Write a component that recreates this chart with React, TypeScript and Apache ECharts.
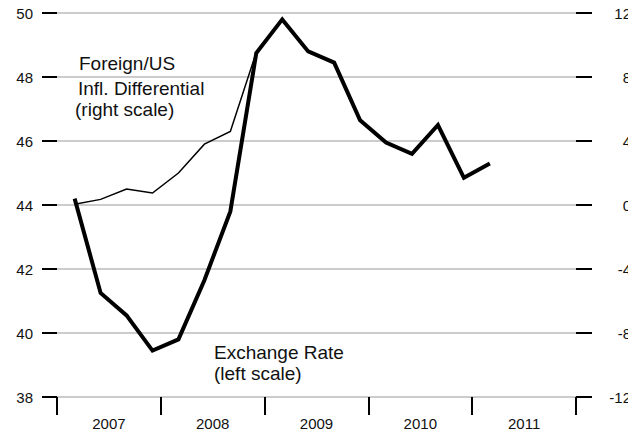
import React, { useEffect, useRef } from "react";
import * as echarts from "echarts";

const years = ["2007", "2008", "2009", "2010", "2011"];
const quarterDates = [
  2007.17, 2007.42, 2007.67, 2007.92, 2008.17, 2008.42, 2008.67, 2008.92,
  2009.17, 2009.42, 2009.67, 2009.92, 2010.17, 2010.42, 2010.67, 2010.92, 2011.17,
];
const exchangeRate = [
  44.2, 41.25, 40.55, 39.45, 39.8, 41.65, 43.8, 48.75, 49.8, 48.8, 48.45, 46.65,
  45.95, 45.6, 46.5, 44.85, 45.3,
];
const inflDiff = [0.05, 0.35, 1.0, 0.75, 2.0, 3.8, 4.6, 9.55];

const FONT = "'Liberation Sans', Arial, Helvetica, sans-serif";

export default function App() {
  const ref = useRef<HTMLDivElement>(null);
  useEffect(() => {
    if (!ref.current) return;
    const chart = echarts.init(ref.current, undefined, { renderer: "svg", width: 628, height: 431 });
    const tickStyle = { color: "#000", width: 2 };
    chart.setOption({
      animation: false,
      backgroundColor: "#fff",
      grid: {
        left: 57,
        right: 52,
        top: 13,
        bottom: 34,
        containLabel: false,
        outerBoundsMode: "none",
      },
      xAxis: [
        {
          type: "value",
          min: 2007,
          max: 2012,
          interval: 1,
          position: "bottom",
          axisLine: { show: false, onZero: false },
          axisTick: { show: true, length: 18, lineStyle: tickStyle },
          axisLabel: { show: false },
          splitLine: { show: false },
        },
        {
          type: "category",
          data: years,
          position: "bottom",
          boundaryGap: true,
          axisLine: { show: false, onZero: false },
          axisTick: { show: false },
          axisLabel: { fontSize: 15, color: "#111", fontFamily: FONT, margin: 19 },
          splitLine: { show: false },
        },
      ],
      yAxis: [
        {
          type: "value",
          min: 38,
          max: 50,
          interval: 2,
          position: "left",
          axisLine: { show: false, onZero: false },
          axisTick: { show: true, length: 15, lineStyle: tickStyle },
          axisLabel: { fontSize: 15, color: "#111", fontFamily: FONT, margin: 24 },
          splitLine: { show: true, lineStyle: { color: "#bbb", width: 1.5 } },
        },
        {
          type: "value",
          min: -12,
          max: 12,
          interval: 4,
          position: "right",
          axisLine: { show: false, onZero: false },
          axisTick: { show: true, length: 16, lineStyle: tickStyle },
          axisLabel: {
            fontSize: 15,
            color: "#111",
            fontFamily: FONT,
            margin: 55,
            align: "right",
          },
          splitLine: { show: false },
        },
      ],
      series: [
        {
          name: "Foreign/US Infl. Differential",
          type: "line",
          xAxisIndex: 0,
          yAxisIndex: 1,
          symbol: "none",
          lineStyle: { color: "#000", width: 1.5, join: "miter" },
          data: inflDiff.map((v, i) => [quarterDates[i], v]),
          z: 2,
        },
        {
          name: "Exchange Rate",
          type: "line",
          xAxisIndex: 0,
          yAxisIndex: 0,
          symbol: "none",
          lineStyle: { color: "#000", width: 4, join: "miter", cap: "butt" },
          data: exchangeRate.map((v, i) => [quarterDates[i], v]),
          z: 3,
        },
      ],
      graphic: [
        { type: "text", x: 79, y: 63.5, style: { text: "Foreign/US", fontSize: 19, fontFamily: FONT, fill: "#111", verticalAlign: "middle" } },
        { type: "text", x: 78, y: 88, style: { text: "Infl. Differential", fontSize: 19, fontFamily: FONT, fill: "#111", verticalAlign: "middle" } },
        { type: "text", x: 75, y: 109.5, style: { text: "(right scale)", fontSize: 19, fontFamily: FONT, fill: "#111", verticalAlign: "middle" } },
        { type: "text", x: 214, y: 352, style: { text: "Exchange Rate", fontSize: 19, fontFamily: FONT, fill: "#111", verticalAlign: "middle" } },
        { type: "text", x: 214, y: 373, style: { text: "(left scale)", fontSize: 19, fontFamily: FONT, fill: "#111", verticalAlign: "middle" } },
      ],
    });
    return () => chart.dispose();
  }, []);
  return (
    <div
      ref={ref}
      style={{ position: "absolute", left: 0, top: 0, width: 628, height: 431, background: "#fff" }}
    />
  );
}
